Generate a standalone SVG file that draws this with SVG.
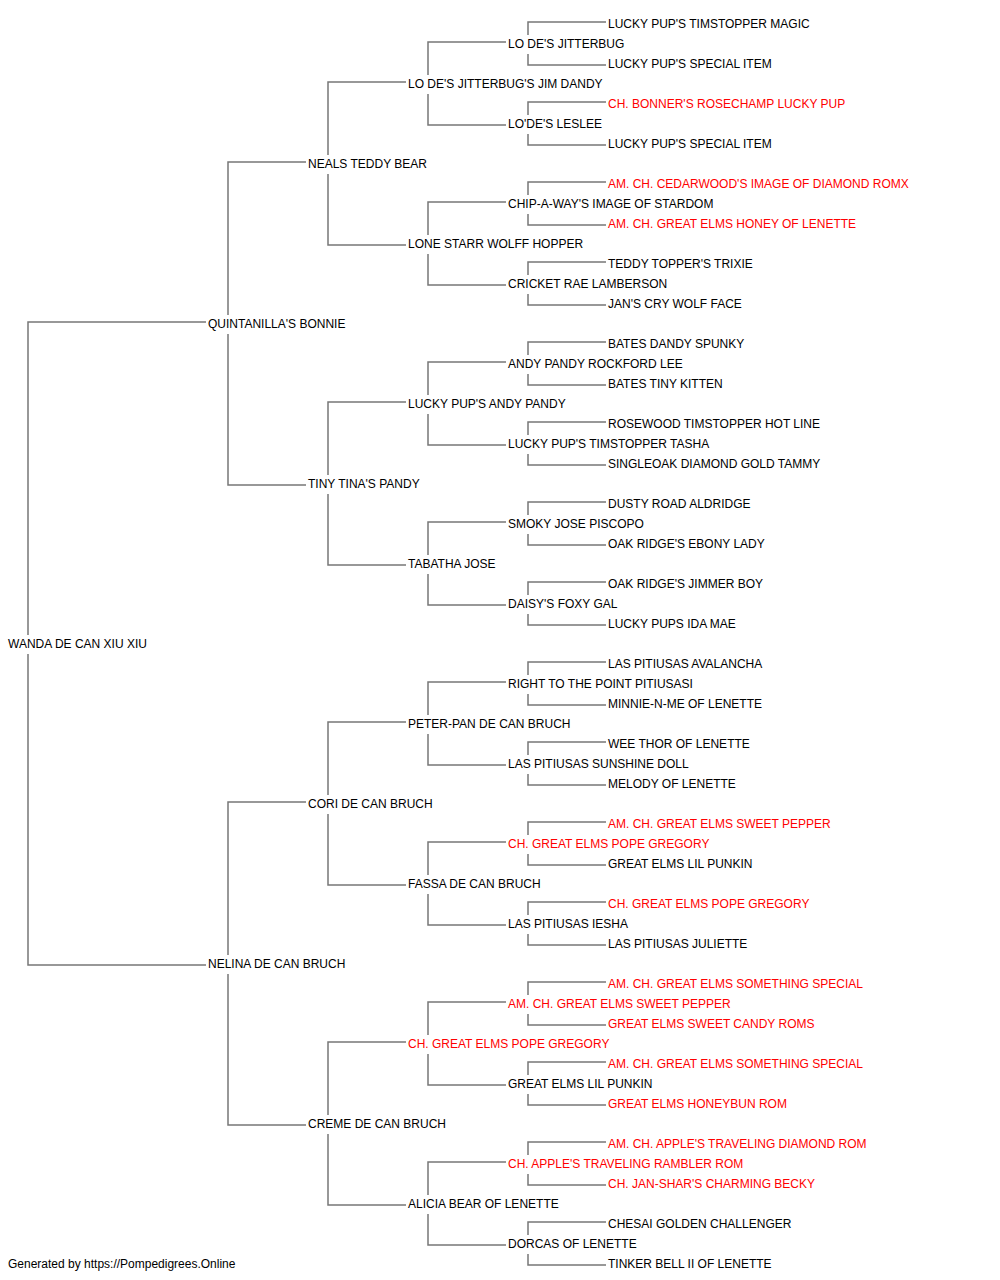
<svg xmlns="http://www.w3.org/2000/svg" width="1000" height="1280" viewBox="0 0 1000 1280">
<style>
text{font-family:"Liberation Sans",Arial,sans-serif;font-size:12px;fill:#000}
text.r{fill:#ff0000}
.c path{fill:none;stroke:#777;stroke-width:1.5}
</style>
<rect width="1000" height="1280" fill="#fff"/>
<g class="c" id="connectors">
<path d="M28,635 V322 H206 M28,654 V965 H206"/>
<path d="M228,315 V162 H306 M228,334 V485 H306"/>
<path d="M228,955 V802 H306 M228,974 V1125 H306"/>
<path d="M328,155 V82 H406 M328,174 V245 H406"/>
<path d="M328,475 V402 H406 M328,494 V565 H406"/>
<path d="M328,795 V722 H406 M328,814 V885 H406"/>
<path d="M328,1115 V1042 H406 M328,1134 V1205 H406"/>
<path d="M428,75 V42 H506 M428,94 V125 H506"/>
<path d="M428,235 V202 H506 M428,254 V285 H506"/>
<path d="M428,395 V362 H506 M428,414 V445 H506"/>
<path d="M428,555 V522 H506 M428,574 V605 H506"/>
<path d="M428,715 V682 H506 M428,734 V765 H506"/>
<path d="M428,875 V842 H506 M428,894 V925 H506"/>
<path d="M428,1035 V1002 H506 M428,1054 V1085 H506"/>
<path d="M428,1195 V1162 H506 M428,1214 V1245 H506"/>
<path d="M528,35 V22 H606 M528,54 V65 H606"/>
<path d="M528,115 V102 H606 M528,134 V145 H606"/>
<path d="M528,195 V182 H606 M528,214 V225 H606"/>
<path d="M528,275 V262 H606 M528,294 V305 H606"/>
<path d="M528,355 V342 H606 M528,374 V385 H606"/>
<path d="M528,435 V422 H606 M528,454 V465 H606"/>
<path d="M528,515 V502 H606 M528,534 V545 H606"/>
<path d="M528,595 V582 H606 M528,614 V625 H606"/>
<path d="M528,675 V662 H606 M528,694 V705 H606"/>
<path d="M528,755 V742 H606 M528,774 V785 H606"/>
<path d="M528,835 V822 H606 M528,854 V865 H606"/>
<path d="M528,915 V902 H606 M528,934 V945 H606"/>
<path d="M528,995 V982 H606 M528,1014 V1025 H606"/>
<path d="M528,1075 V1062 H606 M528,1094 V1105 H606"/>
<path d="M528,1155 V1142 H606 M528,1174 V1185 H606"/>
<path d="M528,1235 V1222 H606 M528,1254 V1265 H606"/>
</g>
<g id="root"><text x="8" y="648">WANDA DE CAN XIU XIU</text></g>
<g id="g1-1"><text x="208" y="328">QUINTANILLA'S BONNIE</text></g>
<g id="g1-2"><text x="208" y="968">NELINA DE CAN BRUCH</text></g>
<g id="g2-1"><text x="308" y="168">NEALS TEDDY BEAR</text></g>
<g id="g2-2"><text x="308" y="488">TINY TINA'S PANDY</text></g>
<g id="g2-3"><text x="308" y="808">CORI DE CAN BRUCH</text></g>
<g id="g2-4"><text x="308" y="1128">CREME DE CAN BRUCH</text></g>
<g id="g3-1"><text x="408" y="88">LO DE'S JITTERBUG'S JIM DANDY</text></g>
<g id="g3-2"><text x="408" y="248">LONE STARR WOLFF HOPPER</text></g>
<g id="g3-3"><text x="408" y="408">LUCKY PUP'S ANDY PANDY</text></g>
<g id="g3-4"><text x="408" y="568">TABATHA JOSE</text></g>
<g id="g3-5"><text x="408" y="728">PETER-PAN DE CAN BRUCH</text></g>
<g id="g3-6"><text x="408" y="888">FASSA DE CAN BRUCH</text></g>
<g id="g3-7"><text class="r" x="408" y="1048">CH. GREAT ELMS POPE GREGORY</text></g>
<g id="g3-8"><text x="408" y="1208">ALICIA BEAR OF LENETTE</text></g>
<g id="g4-1"><text x="508" y="48">LO DE'S JITTERBUG</text></g>
<g id="g4-2"><text x="508" y="128">LO'DE'S LESLEE</text></g>
<g id="g4-3"><text x="508" y="208">CHIP-A-WAY'S IMAGE OF STARDOM</text></g>
<g id="g4-4"><text x="508" y="288">CRICKET RAE LAMBERSON</text></g>
<g id="g4-5"><text x="508" y="368">ANDY PANDY ROCKFORD LEE</text></g>
<g id="g4-6"><text x="508" y="448">LUCKY PUP'S TIMSTOPPER TASHA</text></g>
<g id="g4-7"><text x="508" y="528">SMOKY JOSE PISCOPO</text></g>
<g id="g4-8"><text x="508" y="608">DAISY'S FOXY GAL</text></g>
<g id="g4-9"><text x="508" y="688">RIGHT TO THE POINT PITIUSASI</text></g>
<g id="g4-10"><text x="508" y="768">LAS PITIUSAS SUNSHINE DOLL</text></g>
<g id="g4-11"><text class="r" x="508" y="848">CH. GREAT ELMS POPE GREGORY</text></g>
<g id="g4-12"><text x="508" y="928">LAS PITIUSAS IESHA</text></g>
<g id="g4-13"><text class="r" x="508" y="1008">AM. CH. GREAT ELMS SWEET PEPPER</text></g>
<g id="g4-14"><text x="508" y="1088">GREAT ELMS LIL PUNKIN</text></g>
<g id="g4-15"><text class="r" x="508" y="1168">CH. APPLE'S TRAVELING RAMBLER ROM</text></g>
<g id="g4-16"><text x="508" y="1248">DORCAS OF LENETTE</text></g>
<g id="g5-1"><text x="608" y="28">LUCKY PUP'S TIMSTOPPER MAGIC</text></g>
<g id="g5-2"><text x="608" y="68">LUCKY PUP'S SPECIAL ITEM</text></g>
<g id="g5-3"><text class="r" x="608" y="108">CH. BONNER'S ROSECHAMP LUCKY PUP</text></g>
<g id="g5-4"><text x="608" y="148">LUCKY PUP'S SPECIAL ITEM</text></g>
<g id="g5-5"><text class="r" x="608" y="188">AM. CH. CEDARWOOD'S IMAGE OF DIAMOND ROMX</text></g>
<g id="g5-6"><text class="r" x="608" y="228">AM. CH. GREAT ELMS HONEY OF LENETTE</text></g>
<g id="g5-7"><text x="608" y="268">TEDDY TOPPER'S TRIXIE</text></g>
<g id="g5-8"><text x="608" y="308">JAN'S CRY WOLF FACE</text></g>
<g id="g5-9"><text x="608" y="348">BATES DANDY SPUNKY</text></g>
<g id="g5-10"><text x="608" y="388">BATES TINY KITTEN</text></g>
<g id="g5-11"><text x="608" y="428">ROSEWOOD TIMSTOPPER HOT LINE</text></g>
<g id="g5-12"><text x="608" y="468">SINGLEOAK DIAMOND GOLD TAMMY</text></g>
<g id="g5-13"><text x="608" y="508">DUSTY ROAD ALDRIDGE</text></g>
<g id="g5-14"><text x="608" y="548">OAK RIDGE'S EBONY LADY</text></g>
<g id="g5-15"><text x="608" y="588">OAK RIDGE'S JIMMER BOY</text></g>
<g id="g5-16"><text x="608" y="628">LUCKY PUPS IDA MAE</text></g>
<g id="g5-17"><text x="608" y="668">LAS PITIUSAS AVALANCHA</text></g>
<g id="g5-18"><text x="608" y="708">MINNIE-N-ME OF LENETTE</text></g>
<g id="g5-19"><text x="608" y="748">WEE THOR OF LENETTE</text></g>
<g id="g5-20"><text x="608" y="788">MELODY OF LENETTE</text></g>
<g id="g5-21"><text class="r" x="608" y="828">AM. CH. GREAT ELMS SWEET PEPPER</text></g>
<g id="g5-22"><text x="608" y="868">GREAT ELMS LIL PUNKIN</text></g>
<g id="g5-23"><text class="r" x="608" y="908">CH. GREAT ELMS POPE GREGORY</text></g>
<g id="g5-24"><text x="608" y="948">LAS PITIUSAS JULIETTE</text></g>
<g id="g5-25"><text class="r" x="608" y="988">AM. CH. GREAT ELMS SOMETHING SPECIAL</text></g>
<g id="g5-26"><text class="r" x="608" y="1028">GREAT ELMS SWEET CANDY ROMS</text></g>
<g id="g5-27"><text class="r" x="608" y="1068">AM. CH. GREAT ELMS SOMETHING SPECIAL</text></g>
<g id="g5-28"><text class="r" x="608" y="1108">GREAT ELMS HONEYBUN ROM</text></g>
<g id="g5-29"><text class="r" x="608" y="1148">AM. CH. APPLE'S TRAVELING DIAMOND ROM</text></g>
<g id="g5-30"><text class="r" x="608" y="1188">CH. JAN-SHAR'S CHARMING BECKY</text></g>
<g id="g5-31"><text x="608" y="1228">CHESAI GOLDEN CHALLENGER</text></g>
<g id="g5-32"><text x="608" y="1268">TINKER BELL II OF LENETTE</text></g>
<g id="footer"><text x="8" y="1268">Generated by https://Pompedigrees.Online</text></g>
</svg>
